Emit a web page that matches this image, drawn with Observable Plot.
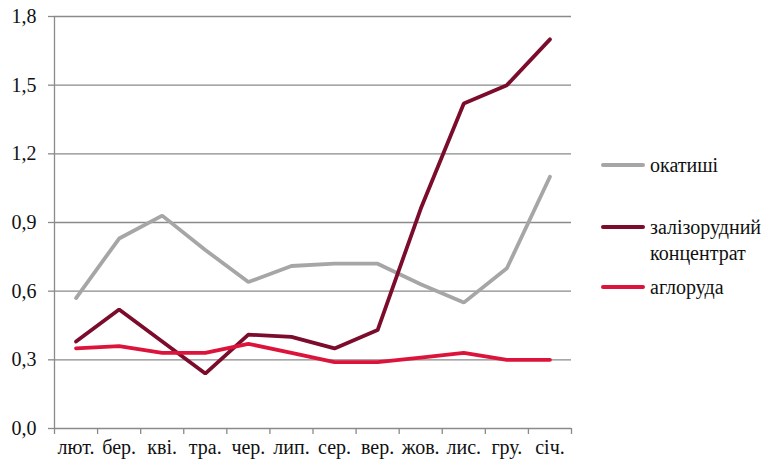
<!DOCTYPE html>
<html><head><meta charset="utf-8">
<script src="https://cdn.jsdelivr.net/npm/d3@7"></script>
<script src="https://cdn.jsdelivr.net/npm/@observablehq/plot@0.6"></script>
<style>
body{margin:0;background:#fff;}
#wrap{position:relative;width:772px;height:466px;font-family:'Liberation Serif','DejaVu Serif',serif;}
#wrap svg text{font-family:'Liberation Serif','DejaVu Serif',serif;}
#legend{position:absolute;left:601px;top:0;font-size:20px;color:#111;}
.item{position:absolute;left:0;display:flex;align-items:flex-start;white-space:nowrap;line-height:26px;}
.sw{width:44px;height:4px;border-radius:2px;margin-top:11px;margin-right:5px;flex:none;}
</style></head>
<body><div id="wrap"><div id="legend"></div></div>
<script>
const months = ["лют.","бер.","кві.","тра.","чер.","лип.","сер.","вер.","жов.","лис.","гру.","січ."];
const okatyshi = [0.57,0.83,0.93,0.78,0.64,0.71,0.72,0.72,0.63,0.55,0.70,1.10];
const koncentrat = [0.38,0.52,0.38,0.24,0.41,0.40,0.35,0.43,0.96,1.42,1.50,1.70];
const agloruda = [0.35,0.36,0.33,0.33,0.37,0.33,0.29,0.29,0.31,0.33,0.30,0.30];
const yTicks = [0,0.3,0.6,0.9,1.2,1.5,1.8];
const series = [
  {name:"окатиші", values:okatyshi, color:"#a6a6a6", top:152},
  {name:"залізорудний\nконцентрат", values:koncentrat, color:"#7b0c2c", top:214},
  {name:"аглоруда", values:agloruda, color:"#dc143c", top:274}
];
const data = series.flatMap(s => s.values.map((v,i)=>({x:i+0.5, y:v, s:s.name})));
const fmt = d => d.toFixed(1).replace(".", ",");
const chart = Plot.plot({
  width:772, height:466,
  marginLeft:54, marginRight:201, marginTop:16, marginBottom:38,
  style:{fontFamily:"'Liberation Serif','DejaVu Serif',serif", fontSize:"20px", color:"#111", background:"transparent"},
  x:{domain:[0,12]},
  y:{domain:[0,1.8]},
  color:{domain:series.map(s=>s.name), range:series.map(s=>s.color)},
  marks:[
    Plot.gridY(yTicks, {stroke:"#8a8a8a", strokeOpacity:1, strokeWidth:1.3}),
    Plot.axisY(yTicks, {tickFormat:fmt, tickSize:6, stroke:"#8a8a8a", strokeWidth:1.3, tickPadding:12, fontSize:20, label:null}),
    Plot.ruleX([0], {stroke:"#8a8a8a", strokeWidth:1.3}),
    Plot.axisX(d3.range(0,13), {tickFormat:()=>"", tickSize:6, stroke:"#8a8a8a", strokeWidth:1.3, label:null}),
    Plot.axisX(months.map((m,i)=>i+0.5), {tickFormat:(d,i)=>months[i], tickSize:0, tickPadding:11, fontSize:20, label:null}),
    Plot.line(data, {x:"x", y:"y", z:"s", stroke:"s", strokeWidth:3.8, strokeLinejoin:"miter"})
  ]
});
document.getElementById("wrap").prepend(chart);
const leg = document.getElementById("legend");
series.forEach(s=>{
  const d = document.createElement("div");
  d.className="item"; d.style.top = s.top+"px";
  const sw = document.createElement("div"); sw.className="sw"; sw.style.background=s.color;
  const t = document.createElement("div"); t.innerHTML = s.name.replace("\n","<br>");
  d.append(sw,t); leg.append(d);
});
</script></body></html>
